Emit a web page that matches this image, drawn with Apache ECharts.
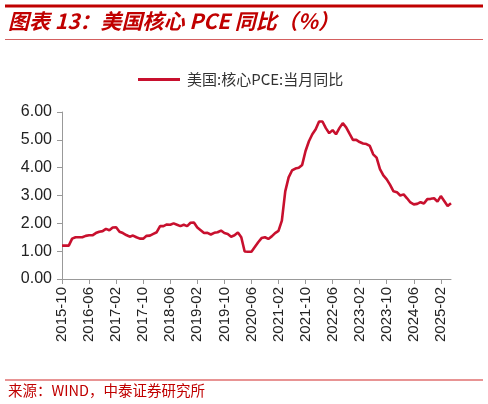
<!DOCTYPE html>
<html>
<head>
<meta charset="utf-8">
<script src="https://cdn.jsdelivr.net/npm/echarts@6/dist/echarts.min.js"></script>
<style>
html,body{margin:0;padding:0;background:#fff;}
#chart{width:488px;height:404px;}
</style>
</head>
<body>
<div id="chart"></div>
<script>
var seriesName = '美国:核心PCE:当月同比';
var categories = [
  '2015-10','2015-11','2015-12',
  '2016-01','2016-02','2016-03','2016-04','2016-05','2016-06','2016-07','2016-08','2016-09','2016-10','2016-11','2016-12',
  '2017-01','2017-02','2017-03','2017-04','2017-05','2017-06','2017-07','2017-08','2017-09','2017-10','2017-11','2017-12',
  '2018-01','2018-02','2018-03','2018-04','2018-05','2018-06','2018-07','2018-08','2018-09','2018-10','2018-11','2018-12',
  '2019-01','2019-02','2019-03','2019-04','2019-05','2019-06','2019-07','2019-08','2019-09','2019-10','2019-11','2019-12',
  '2020-01','2020-02','2020-03','2020-04','2020-05','2020-06','2020-07','2020-08','2020-09','2020-10','2020-11','2020-12',
  '2021-01','2021-02','2021-03','2021-04','2021-05','2021-06','2021-07','2021-08','2021-09','2021-10','2021-11','2021-12',
  '2022-01','2022-02','2022-03','2022-04','2022-05','2022-06','2022-07','2022-08','2022-09','2022-10','2022-11','2022-12',
  '2023-01','2023-02','2023-03','2023-04','2023-05','2023-06','2023-07','2023-08','2023-09','2023-10','2023-11','2023-12',
  '2024-01','2024-02','2024-03','2024-04','2024-05','2024-06','2024-07','2024-08','2024-09','2024-10','2024-11','2024-12',
  '2025-01','2025-02','2025-03','2025-04','2025-05'
];
var corePCE = [
  1.20,1.20,1.20,
  1.45,1.50,1.50,1.50,1.55,1.57,1.57,1.65,1.70,1.72,1.80,1.75,
  1.85,1.86,1.70,1.65,1.58,1.52,1.56,1.50,1.45,1.45,1.55,1.56,
  1.62,1.68,1.90,1.90,1.96,1.95,2.00,1.95,1.90,1.95,1.90,2.02,
  2.03,1.85,1.75,1.65,1.66,1.60,1.66,1.68,1.74,1.65,1.62,1.52,
  1.57,1.67,1.50,0.99,0.98,0.98,1.15,1.32,1.47,1.50,1.44,1.53,
  1.65,1.73,2.10,3.15,3.65,3.90,3.97,4.00,4.10,4.60,4.95,5.20,
  5.38,5.66,5.66,5.42,5.24,5.35,5.20,5.42,5.60,5.45,5.22,5.00,
  5.00,4.92,4.87,4.85,4.78,4.48,4.36,3.95,3.72,3.58,3.38,3.15,
  3.12,3.00,3.04,2.90,2.75,2.68,2.70,2.76,2.71,2.87,2.88,2.90,
  2.78,2.98,2.80,2.62,2.72
];
var yTicks = {min: 0, max: 6, interval: 1};

var chart = echarts.init(document.getElementById('chart'));
var red = '#C00000';
chart.setOption({
  animation: false,
  backgroundColor: '#fff',
  graphic: [
    {type: 'line', shape: {x1: 5, y1: 6, x2: 483, y2: 6}, style: {stroke: red, lineWidth: 3}},
    {type: 'text', left: 8, top: 11, style: {text: '图表 13：美国核心 PCE 同比（%）', font: 'italic bold 21px "Noto Sans CJK SC", sans-serif', fill: red}},
    {type: 'line', shape: {x1: 5, y1: 39.5, x2: 483, y2: 39.5}, style: {stroke: '#D46060', lineWidth: 1}},
    {type: 'line', shape: {x1: 5, y1: 380, x2: 483, y2: 380}, style: {stroke: '#E07070', lineWidth: 1.5}},
    {type: 'text', left: 8, top: 383, style: {text: '来源：WIND，中泰证券研究所', font: '14.5px "Noto Sans CJK SC", sans-serif', fill: red}}
  ],
  legend: {
    left: 133, top: 67,
    icon: 'rect',
    itemWidth: 42, itemHeight: 3, itemGap: 10,
    textStyle: {fontSize: 15, color: '#333', fontFamily: '"Noto Sans CJK SC", sans-serif', padding: [0, 0, 0, 2]},
    data: [seriesName]
  },
  grid: {left: 62, right: 37, top: 112, bottom: 125, containLabel: false},
  xAxis: {
    type: 'category', data: categories, boundaryGap: false,
    axisLine: {lineStyle: {color: '#999', width: 1}},
    axisTick: {show: true, interval: 7, length: 5, lineStyle: {color: '#999'}},
    axisLabel: {interval: 7, rotate: 90, fontSize: 15, color: '#222', fontFamily: 'Liberation Sans, Arial, sans-serif', margin: 8}
  },
  yAxis: {
    type: 'value', min: yTicks.min, max: yTicks.max, interval: yTicks.interval,
    axisLine: {show: true, lineStyle: {color: '#999', width: 1}},
    axisTick: {show: true, length: 5, lineStyle: {color: '#999'}},
    splitLine: {show: false},
    axisLabel: {fontSize: 16, color: '#222', fontFamily: 'Liberation Sans, Arial, sans-serif', margin: 10,
      formatter: function (v) { return v.toFixed(2); }}
  },
  series: [{
    name: seriesName, type: 'line', data: corePCE,
    symbol: 'none', smooth: false,
    lineStyle: {color: '#C8102E', width: 2.6},
    itemStyle: {color: '#C8102E'}
  }]
});
</script>
</body>
</html>
